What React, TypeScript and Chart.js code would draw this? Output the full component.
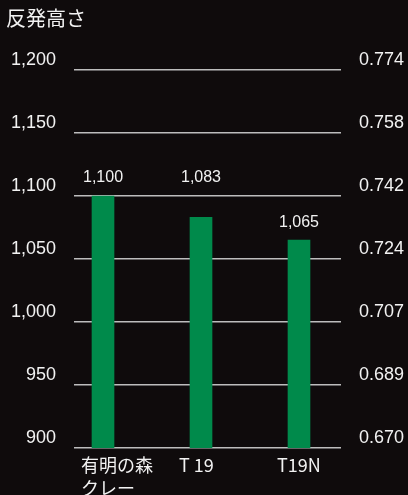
import { useEffect, useRef } from "react";
import { Chart, registerables } from "chart.js";

Chart.register(...registerables);

const title = "反発高さ";
const categories: (string | string[])[] = [["有明の森", "クレー"], "T 19", "T19N"];
const values = [1100, 1083, 1065];
const leftTickLabels = ["900", "950", "1,000", "1,050", "1,100", "1,150", "1,200"];
const rightTickLabels = ["0.670", "0.689", "0.707", "0.724", "0.742", "0.758", "0.774"];
const yMin = 900;
const yMax = 1200;
const yStep = 50;

const BG = "#0f0b0c";
const TEXT = "#f2f2f2";
const GREEN = "#008a4b";
const GRID = "#bdbdbd";
const LATIN = "'Liberation Sans', Arial, Helvetica, sans-serif";
const CJK = "'Noto Sans CJK JP', 'Noto Sans', sans-serif";

const valueLabelPlugin = {
  id: "valueLabels",
  afterDatasetsDraw(chart: any) {
    const { ctx } = chart;
    const yScale = chart.scales.y;
    const gridPx = yScale.ticks.map((t: any) => yScale.getPixelForValue(t.value));
    const meta = chart.getDatasetMeta(0);
    ctx.save();
    ctx.font = `16px ${LATIN}`;
    ctx.fillStyle = TEXT;
    ctx.textAlign = "center";
    ctx.textBaseline = "middle";
    meta.data.forEach((bar: any, i: number) => {
      let y = bar.y - 18;
      for (const g of gridPx) {
        if (Math.abs(y - g) < 10) y = g - 18;
      }
      ctx.fillText(values[i].toLocaleString("en-US"), bar.x, y);
    });
    ctx.restore();
  },
};

export default function App() {
  const ref = useRef<HTMLCanvasElement>(null);

  useEffect(() => {
    document.body.style.margin = "0";
    document.body.style.background = BG;
    const canvas = ref.current;
    if (!canvas) return;
    const chart = new Chart(canvas, {
      type: "bar",
      data: {
        datasets: [
          {
            data: values.map((v, i) => ({ x: i, y: v })) as any,
            backgroundColor: GREEN,
            borderWidth: 0,
            barThickness: 22,
          },
        ],
      },
      options: {
        responsive: false,
        animation: false,
        layout: { padding: { left: 6, right: 0, top: 0, bottom: 0 } },
        plugins: {
          legend: { display: false },
          tooltip: { enabled: false },
          title: {
            display: true,
            text: title,
            align: "start",
            color: TEXT,
            font: { family: CJK, size: 20, weight: "normal", lineHeight: 1.2 },
            padding: { top: 6, bottom: 40 },
          },
        },
        scales: {
          x: {
            type: "linear",
            offset: false,
            min: -0.296,
            max: 2.4286,
            grid: { display: false, drawTicks: false },
            border: { display: false },
            afterBuildTicks: (s: any) => {
              s.ticks = categories.map((_, i) => ({ value: i }));
            },
            afterFit: (s: any) => {
              s.height = 47;
            },
            ticks: {
              autoSkip: false,
              maxRotation: 0,
              minRotation: 0,
              align: "start",
              labelOffset: -22,
              padding: 6,
              color: TEXT,
              font: { family: CJK, size: 18, lineHeight: 1.28 },
              callback: (v: any) => categories[Math.round(Number(v))] as any,
            },
          },
          y: {
            position: "left",
            min: yMin,
            max: yMax,
            grid: { color: GRID, lineWidth: 1.5, drawTicks: false },
            border: { display: false },
            afterFit: (s: any) => {
              s.width = 68;
            },
            ticks: {
              stepSize: yStep,
              padding: 18,
              labelOffset: -10,
              color: TEXT,
              font: { family: LATIN, size: 18 },
              callback: (_v: any, i: number) => leftTickLabels[i],
            },
          },
          y2: {
            position: "right",
            min: yMin,
            max: yMax,
            grid: { display: false, drawTicks: false },
            border: { display: false },
            afterFit: (s: any) => {
              s.width = 67;
            },
            ticks: {
              stepSize: yStep,
              padding: 18,
              labelOffset: -10,
              color: TEXT,
              font: { family: LATIN, size: 18 },
              callback: (_v: any, i: number) => rightTickLabels[i],
            },
          },
        },
      } as any,
      plugins: [valueLabelPlugin],
    });
    return () => chart.destroy();
  }, []);

  return (
    <div
      style={{
        position: "fixed",
        left: 0,
        top: 0,
        width: 408,
        height: 495,
        background: BG,
        overflow: "hidden",
      }}
    >
      <canvas ref={ref} width={408} height={495} style={{ display: "block" }} />
    </div>
  );
}
